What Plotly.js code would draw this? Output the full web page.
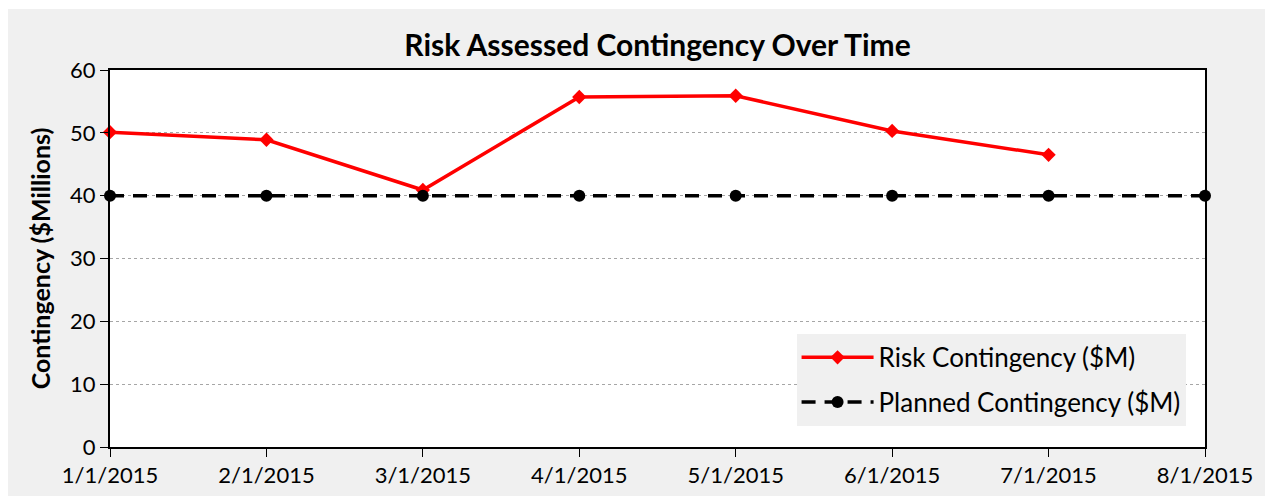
<!DOCTYPE html>
<html>
<head>
<meta charset="utf-8">
<script src="https://cdn.plot.ly/plotly-3.0.1.min.js"></script>
<style>
html,body{margin:0;padding:0;background:#ffffff;}
#chart{position:absolute;left:8px;top:9px;width:1257px;height:487px;}
</style>
</head>
<body>
<div id="chart"></div>
<script>
const dates = ['1/1/2015','2/1/2015','3/1/2015','4/1/2015','5/1/2015','6/1/2015','7/1/2015','8/1/2015'];
const riskDates = ['1/1/2015','2/1/2015','3/1/2015','4/1/2015','5/1/2015','6/1/2015','7/1/2015'];
const riskValues = [50.1, 48.9, 40.9, 55.7, 55.9, 50.3, 46.5];
const plannedValues = [40, 40, 40, 40, 40, 40, 40, 40];
const yTicks = [0, 10, 20, 30, 40, 50, 60];

const FONT = 'Lato, "Open Sans", sans-serif';

const traces = [
  {
    x: riskDates, y: riskValues, type: 'scatter', mode: 'lines+markers',
    name: 'Risk Contingency ($M)', legendgroup: 'risk',
    line: {color: '#ff0000', width: 3.5},
    marker: {symbol: 'diamond', size: 11, color: '#ff0000'},
    cliponaxis: false
  },
  {
    x: dates, y: plannedValues, type: 'scatter', mode: 'lines+markers',
    name: 'Planned Contingency ($M)', legendgroup: 'planned',
    line: {color: '#000000', width: 3.5, dash: '14px,9px'},
    marker: {symbol: 'circle', size: 12, color: '#000000'},
    cliponaxis: false
  }
];

const layout = {
  width: 1257, height: 487,
  paper_bgcolor: '#f0f0f0', plot_bgcolor: '#ffffff',
  margin: {l: 102, r: 60, t: 61, b: 49},
  font: {family: FONT, color: '#000000', size: 22},
  title: {
    text: '<b>Risk Assessed Contingency Over Time</b>',
    font: {family: FONT, size: 30, color: '#000000'},
    x: 0.5, xanchor: 'center', y: 0.925, yanchor: 'middle', xref: 'paper'
  },
  xaxis: {
    type: 'category', categoryorder: 'array', categoryarray: dates,
    range: [0, dates.length - 1],
    showgrid: false, zeroline: false,
    showline: true, linecolor: '#000000', linewidth: 2, mirror: true,
    ticks: 'outside', ticklen: 8, tickwidth: 1, tickcolor: '#000000',
    tickfont: {family: FONT, size: 22, color: '#000000'},
    fixedrange: true
  },
  yaxis: {
    range: [0, 60], tickvals: yTicks,
    showgrid: true, gridcolor: '#a6a6a6', gridwidth: 1, griddash: 'dot',
    zeroline: false,
    showline: true, linecolor: '#000000', linewidth: 2, mirror: true,
    ticks: 'outside', ticklen: 8, tickwidth: 1, tickcolor: '#000000',
    tickfont: {family: FONT, size: 22, color: '#000000'},
    title: {text: '<b>Contingency ($Millions)</b>', font: {family: FONT, size: 25, color: '#000000'}, standoff: 12},
    fixedrange: true
  },
  legend: {
    x: 0.627, y: 0.30, xanchor: 'left', yanchor: 'top',
    bgcolor: '#f0f0f0', borderwidth: 0,
    font: {family: FONT, size: 26, color: '#000000'},
    itemwidth: 72, tracegroupgap: 8
  },
  showlegend: true
};

Plotly.newPlot('chart', traces, layout, {displayModeBar: false, staticPlot: true});
</script>
</body>
</html>
